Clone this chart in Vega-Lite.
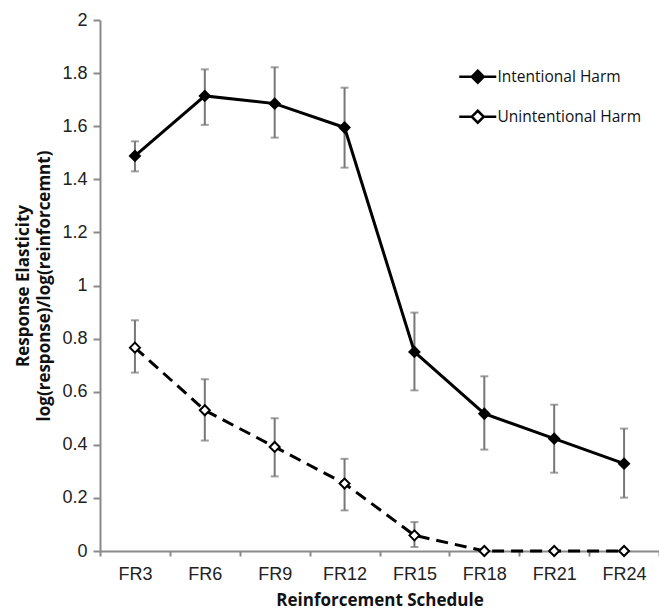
{
  "$schema": "https://vega.github.io/schema/vega-lite/v6.json",
  "width": 559,
  "height": 531,
  "autosize": {"type": "none"},
  "padding": {"left": 100, "top": 20, "right": 0, "bottom": 63},
  "background": "white",
  "config": {
    "view": {"stroke": null},
    "axis": {
      "domainColor": "#8a8a8a",
      "domainWidth": 2,
      "tickColor": "#8a8a8a",
      "tickWidth": 2,
      "grid": false,
      "labelFont": "Liberation Sans",
      "labelFontSize": 18,
      "labelColor": "#222222",
      "titleFont": "Open Sans",
      "titleFontWeight": "bold",
      "titleFontSize": 17,
      "titleColor": "#111111"
    }
  },
  "data": {
    "values": [
      {"schedule": "FR3", "series": "Intentional Harm", "value": 1.488, "lo": 1.430, "hi": 1.543},
      {"schedule": "FR6", "series": "Intentional Harm", "value": 1.714, "lo": 1.605, "hi": 1.814},
      {"schedule": "FR9", "series": "Intentional Harm", "value": 1.685, "lo": 1.557, "hi": 1.822},
      {"schedule": "FR12", "series": "Intentional Harm", "value": 1.595, "lo": 1.444, "hi": 1.745},
      {"schedule": "FR15", "series": "Intentional Harm", "value": 0.750, "lo": 0.605, "hi": 0.898},
      {"schedule": "FR18", "series": "Intentional Harm", "value": 0.517, "lo": 0.382, "hi": 0.658},
      {"schedule": "FR21", "series": "Intentional Harm", "value": 0.423, "lo": 0.295, "hi": 0.551},
      {"schedule": "FR24", "series": "Intentional Harm", "value": 0.329, "lo": 0.201, "hi": 0.461},
      {"schedule": "FR3", "series": "Unintentional Harm", "value": 0.766, "lo": 0.672, "hi": 0.869},
      {"schedule": "FR6", "series": "Unintentional Harm", "value": 0.530, "lo": 0.416, "hi": 0.647},
      {"schedule": "FR9", "series": "Unintentional Harm", "value": 0.392, "lo": 0.281, "hi": 0.500},
      {"schedule": "FR12", "series": "Unintentional Harm", "value": 0.254, "lo": 0.153, "hi": 0.347},
      {"schedule": "FR15", "series": "Unintentional Harm", "value": 0.059, "lo": 0.015, "hi": 0.109},
      {"schedule": "FR18", "series": "Unintentional Harm", "value": 0, "lo": null, "hi": null},
      {"schedule": "FR21", "series": "Unintentional Harm", "value": 0, "lo": null, "hi": null},
      {"schedule": "FR24", "series": "Unintentional Harm", "value": 0, "lo": null, "hi": null}
    ]
  },
  "encoding": {
    "x": {
      "field": "schedule",
      "type": "ordinal",
      "sort": ["FR3", "FR6", "FR9", "FR12", "FR15", "FR18", "FR21", "FR24"],
      "scale": {"type": "band", "paddingInner": 0, "paddingOuter": 0},
      "axis": {
        "title": "Reinforcement Schedule",
        "labelAngle": 0,
        "tickBand": "extent",
        "tickSize": 5,
        "labelPadding": 9,
        "titlePadding": 9
      }
    }
  },
  "layer": [
    {
      "transform": [{"filter": "datum.lo != null"}],
      "mark": {"type": "rule", "color": "#777777", "strokeWidth": 2},
      "encoding": {
        "y": {
          "field": "lo",
          "type": "quantitative",
          "scale": {"domain": [0, 2], "nice": false},
          "axis": {
            "title": ["Response Elasticity", "log(response)/log(reinforcemnt)"],
            "values": [0, 0.2, 0.4, 0.6, 0.8, 1, 1.2, 1.4, 1.6, 1.8, 2],
            "format": "~g",
            "tickSize": 7,
            "labelPadding": 6,
            "titlePadding": 8,
            "titleLineHeight": 21
          }
        },
        "y2": {"field": "hi"}
      }
    },
    {
      "transform": [{"filter": "datum.lo != null"}],
      "mark": {"type": "tick", "color": "#777777", "thickness": 2, "size": 8, "orient": "horizontal"},
      "encoding": {"y": {"field": "lo", "type": "quantitative"}}
    },
    {
      "transform": [{"filter": "datum.hi != null"}],
      "mark": {"type": "tick", "color": "#777777", "thickness": 2, "size": 8, "orient": "horizontal"},
      "encoding": {"y": {"field": "hi", "type": "quantitative"}}
    },
    {
      "transform": [{"filter": "datum.series == 'Intentional Harm'"}],
      "mark": {"type": "line", "color": "black", "strokeWidth": 3},
      "encoding": {"y": {"field": "value", "type": "quantitative"}}
    },
    {
      "transform": [{"filter": "datum.series == 'Unintentional Harm'"}],
      "mark": {"type": "line", "color": "black", "strokeWidth": 3, "strokeDash": [12, 7]},
      "encoding": {"y": {"field": "value", "type": "quantitative"}}
    },
    {
      "mark": {"type": "point", "shape": "diamond", "filled": true, "stroke": "black", "strokeWidth": 2, "size": 100, "opacity": 1},
      "encoding": {
        "y": {"field": "value", "type": "quantitative"},
        "fill": {
          "field": "series",
          "type": "nominal",
          "scale": {"domain": ["Intentional Harm", "Unintentional Harm"], "range": ["black", "white"]},
          "legend": {
            "title": null,
            "orient": "none",
            "legendX": 370,
            "legendY": 49,
            "padding": 0,
            "symbolType": "M-3.7,0L-1.2,0M1.2,0L3.7,0M0,-1.2L1.2,0L0,1.2L-1.2,0Z",
            "symbolSize": 100,
            "symbolStrokeColor": "black",
            "symbolStrokeWidth": 2.5,
            "symbolOpacity": 1,
            "labelFont": "Open Sans",
            "labelFontSize": 15.5,
            "labelColor": "#111111",
            "labelOffset": 12,
            "rowPadding": 17
          }
        }
      }
    }
  ]
}
